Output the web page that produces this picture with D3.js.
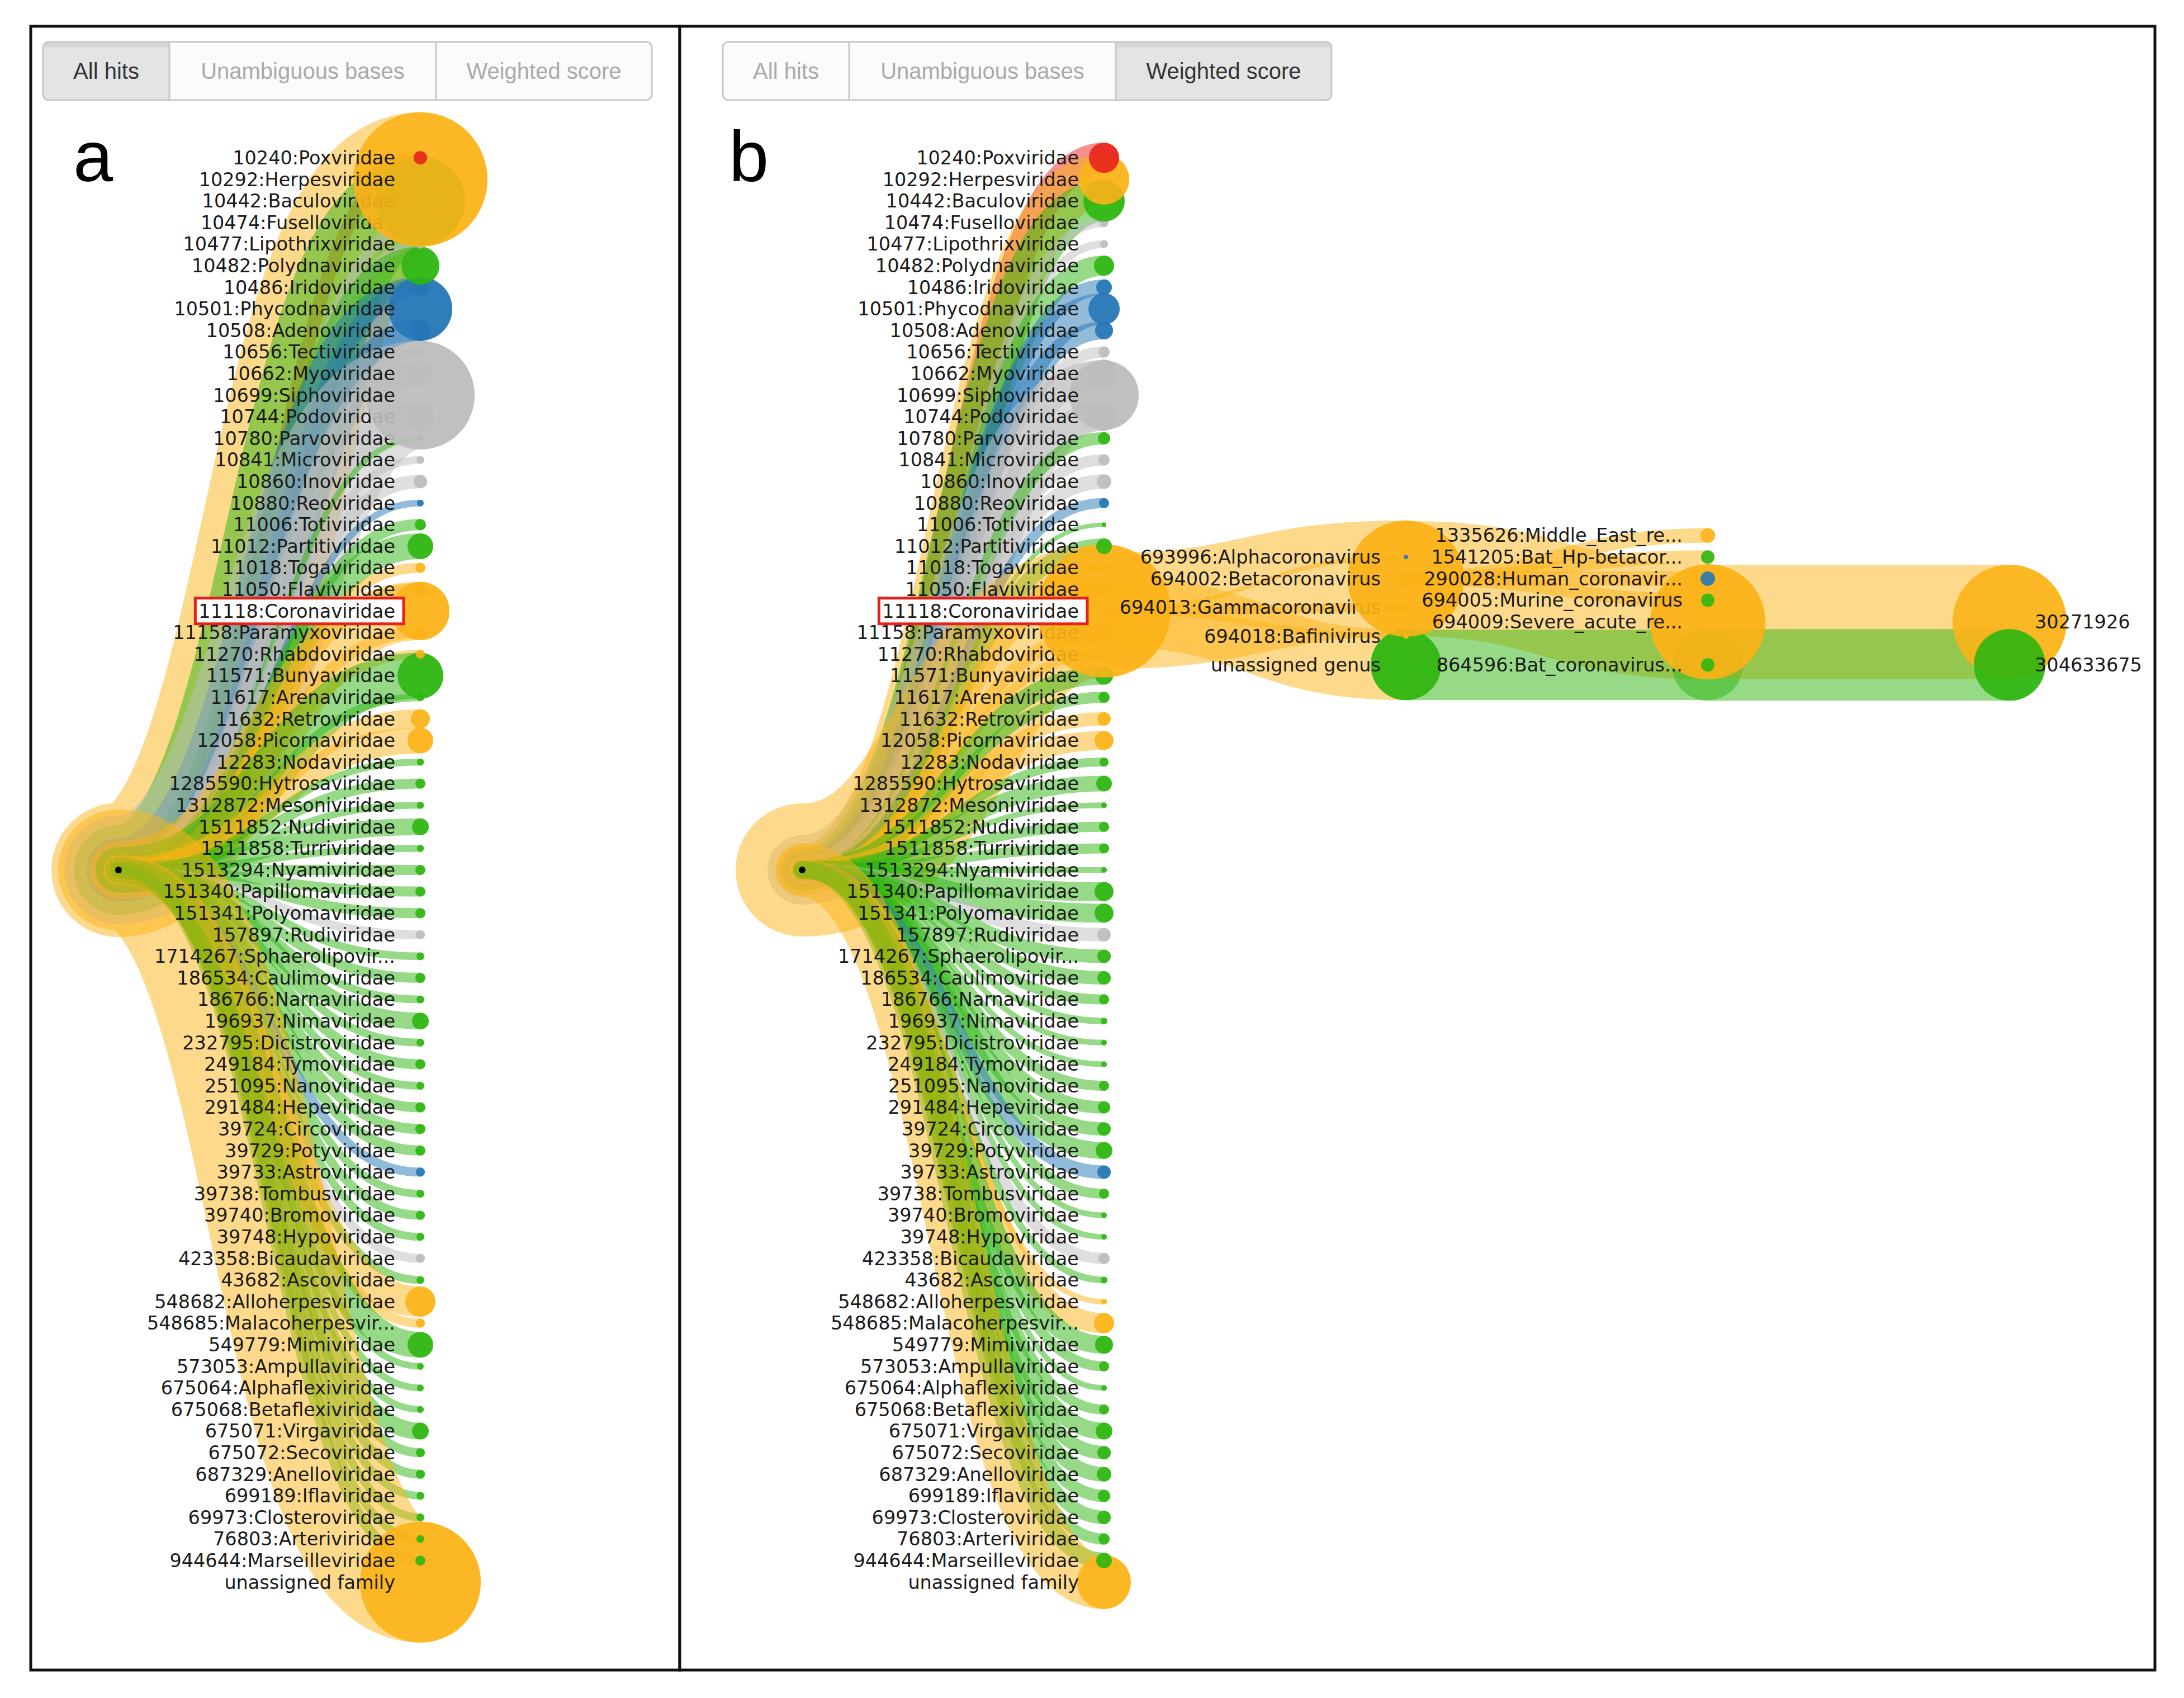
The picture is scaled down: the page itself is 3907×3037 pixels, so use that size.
<!DOCTYPE html>
<html>
<head>
<meta charset="utf-8">
<script src="https://cdn.jsdelivr.net/npm/d3@7"></script>
<style>
  body { margin: 0; background: #fff; }
  .lbl { font-family: "DejaVu Sans", Verdana, sans-serif; font-size: 33.5px; fill: #1a1a1a; }
  .btn { font-family: "Liberation Sans", Arial, sans-serif; font-size: 40px; }
</style>
</head>
<body>
<div id="root"></div>
<script>
const WIDTH = 3907;
const HEIGHT = 3037;
const ROW = 38.6;        // vertical room per leaf
const STEP = 540;        // horizontal room per depth
const LABEL_GAP = 45;
const ROOT_Y = 1556;
const EXPANDED_FAMILY = "11118:Coronaviridae";

// host groups: R red, O orange, G green, B blue, N grey
const families = [
  "10240:Poxviridae", "10292:Herpesviridae", "10442:Baculoviridae", "10474:Fuselloviridae",
  "10477:Lipothrixviridae", "10482:Polydnaviridae", "10486:Iridoviridae", "10501:Phycodnaviridae",
  "10508:Adenoviridae", "10656:Tectiviridae", "10662:Myoviridae", "10699:Siphoviridae",
  "10744:Podoviridae", "10780:Parvoviridae", "10841:Microviridae", "10860:Inoviridae",
  "10880:Reoviridae", "11006:Totiviridae", "11012:Partitiviridae", "11018:Togaviridae",
  "11050:Flaviviridae", "11118:Coronaviridae", "11158:Paramyxoviridae", "11270:Rhabdoviridae",
  "11571:Bunyaviridae", "11617:Arenaviridae", "11632:Retroviridae", "12058:Picornaviridae",
  "12283:Nodaviridae", "1285590:Hytrosaviridae", "1312872:Mesoniviridae", "1511852:Nudiviridae",
  "1511858:Turriviridae", "1513294:Nyamiviridae", "151340:Papillomaviridae", "151341:Polyomaviridae",
  "157897:Rudiviridae", "1714267:Sphaerolipoviridae", "186534:Caulimoviridae", "186766:Narnaviridae",
  "196937:Nimaviridae", "232795:Dicistroviridae", "249184:Tymoviridae", "251095:Nanoviridae",
  "291484:Hepeviridae", "39724:Circoviridae", "39729:Potyviridae", "39733:Astroviridae",
  "39738:Tombusviridae", "39740:Bromoviridae", "39748:Hypoviridae", "423358:Bicaudaviridae",
  "43682:Ascoviridae", "548682:Alloherpesviridae", "548685:Malacoherpesviridae", "549779:Mimiviridae",
  "573053:Ampullaviridae", "675064:Alphaflexiviridae", "675068:Betaflexiviridae", "675071:Virgaviridae",
  "675072:Secoviridae", "687329:Anelloviridae", "699189:Iflaviridae", "69973:Closteroviridae",
  "76803:Arteriviridae", "944644:Marseilleviridae", "unassigned family"
];
const familyHost = [
  "R","O","G","N","N","G","B","B","B","N","N","N","N","G","N","N",
  "B","G","G","O","O","O","O","O","G","G","O","O","G","G","G","G",
  "G","G","G","G","N","G","G","G","G","G","G","G","G","G","G","B",
  "G","G","G","N","G","O","O","G","G","G","G","G","G","G","G","G",
  "G","G","O"
];
// panel a: all hits (share, %)
const allHits = [
  0.80, 80.2, 35.6, 0.56, 0.36, 6.44, 1.25, 18.1, 2.01, 0.36, 2.23, 52.4, 3.48, 0.14, 0.27, 0.80,
  0.20, 0.56, 2.95, 0.45, 0.80, 15.1, 0.56, 0.36, 9.36, 0.27, 1.61, 2.95, 0.22, 0.45, 0.22, 1.25,
  0.22, 0.45, 0.45, 0.45, 0.36, 0.27, 0.45, 0.27, 1.25, 0.27, 0.45, 0.27, 0.45, 0.45, 0.45, 0.36,
  0.27, 0.36, 0.27, 0.36, 0.27, 4.06, 0.36, 2.95, 0.20, 0.20, 0.20, 1.25, 0.36, 0.36, 0.27, 0.27,
  0.27, 0.45, 65.0
];
// panel b: weighted score (share, %)
const weightedScore = [
  4.06, 11.3, 7.62, 0.36, 0.27, 1.80, 1.09, 4.37, 1.43, 0.56, 3.48, 21.4, 3.48, 0.67, 0.56, 0.94,
  0.45, 0.09, 1.09, 0.36, 0.56, 78.9, 0.80, 0.36, 1.43, 0.56, 0.80, 1.61, 0.36, 1.09, 0.14, 0.45,
  0.45, 0.14, 1.61, 1.61, 0.80, 0.80, 0.80, 0.45, 0.20, 0.14, 0.14, 0.45, 0.67, 0.80, 1.25, 0.80,
  0.45, 0.14, 0.14, 0.56, 0.20, 0.14, 1.80, 1.43, 0.45, 0.14, 0.45, 1.25, 0.80, 0.94, 0.67, 0.80,
  0.56, 1.09, 12.8
];

// Coronaviridae subtree (panel b)
const genera = ["693996:Alphacoronavirus", "694002:Betacoronavirus", "694013:Gammacoronavirus",
  "694018:Bafinivirus", "unassigned genus"];
const genusHost = ["B", "O", "O", "O", "G"];
const genusScore = [0.09, 60.2, 0.36, 0.14, 22.1];

const species = [
  "1335626:Middle_East_respiratory_syndrome-related_coronavirus",
  "1541205:Bat_Hp-betacoronavirus_Zhejiang2013",
  "290028:Human_coronavirus_HKU1",
  "694005:Murine_coronavirus",
  "694009:Severe_acute_respiratory_syndrome-related_coronavirus",
  "864596:Bat_coronavirus_BM48-31/BGR/2008"
];
const speciesGenus = [1, 1, 1, 1, 1, 4];
const speciesHost = ["O", "G", "B", "G", "O", "G"];
const speciesScore = [0.94, 0.80, 0.94, 0.80, 59.1, 22.1];
const speciesOwn = [0.94, 0.80, 0.94, 0.80, 59.1, 0.80];

const strains = ["30271926", "304633675"];
const strainSpecies = [4, 5];
const strainHost = ["O", "G"];
const strainScore = [57.9, 22.8];

const modes = ["All hits", "Unambiguous bases", "Weighted score"];
const BUTTON_WIDTHS = [226, 477, 386];

const radius = d3.scaleSqrt().domain([0, 100]).range([0, 134]);
const hostColor = d3.scaleOrdinal()
    .domain(["R", "O", "G", "B", "N"])
    .range(["#e8231d", "#fcb318", "#2db612", "#2577b5", "#bdbdbd"]);

const svg = d3.select("#root")
    .append("svg")
    .attr("width", WIDTH)
    .attr("height", HEIGHT)
    .style("display", "block");

function shortName(name) {
    return name.length > 25 ? name.slice(0, 22) + "..." : name;
}

function buildTree(values, expanded) {
    const children = families.map((name, i) => ({name, host: familyHost[i], value: values[i]}));
    if (expanded) {
        const gen = genera.map((name, i) => ({name, host: genusHost[i], value: genusScore[i], children: []}));
        const sp = species.map((name, i) => ({
            name, host: speciesHost[i], value: speciesScore[i], own: speciesOwn[i], children: []
        }));
        strains.forEach((name, i) => {
            sp[strainSpecies[i]].children.push({name, host: strainHost[i], value: strainScore[i], strain: true});
        });
        sp.forEach((s, i) => gen[speciesGenus[i]].children.push(s));
        children[families.indexOf(EXPANDED_FAMILY)].children = gen;
    }
    return d3.tree().nodeSize([ROW, STEP])(d3.hierarchy({name: "root", children}));
}

function drawButtons(g, x, y, active, id) {
    const h = 104;
    const total = d3.sum(BUTTON_WIDTHS);
    const starts = d3.cumsum([0, ...BUTTON_WIDTHS]);
    g.append("clipPath").attr("id", id)
        .append("rect").attr("x", x).attr("y", y).attr("width", total).attr("height", h).attr("rx", 10);
    const inner = g.append("g").attr("clip-path", `url(#${id})`);
    inner.selectAll("rect").data(modes).join("rect")
        .attr("x", (d, i) => x + starts[i])
        .attr("y", y)
        .attr("width", (d, i) => BUTTON_WIDTHS[i])
        .attr("height", h)
        .attr("fill", (d, i) => i === active ? "#e4e4e4" : "#fbfbfb");
    // inset shadow on the pressed button
    inner.append("rect")
        .attr("x", x + starts[active])
        .attr("y", y)
        .attr("width", BUTTON_WIDTHS[active])
        .attr("height", 10)
        .attr("fill", "#cfcfcf")
        .attr("opacity", 0.6);
    g.append("rect").attr("x", x).attr("y", y).attr("width", total).attr("height", h).attr("rx", 10)
        .attr("fill", "none").attr("stroke", "#c8c8c8").attr("stroke-width", 3);
    g.selectAll("line.sep").data(starts.slice(1, -1)).join("line")
        .attr("class", "sep")
        .attr("x1", d => x + d).attr("x2", d => x + d)
        .attr("y1", y).attr("y2", y + h)
        .attr("stroke", "#c8c8c8").attr("stroke-width", 3);
    g.selectAll("text.btn").data(modes).join("text")
        .attr("class", "btn")
        .attr("x", (d, i) => x + starts[i] + BUTTON_WIDTHS[i] / 2)
        .attr("y", y + h / 2)
        .attr("dy", "0.35em")
        .attr("text-anchor", "middle")
        .attr("fill", (d, i) => i === active ? "#333" : "#a9a9a9")
        .text(d => d);
}

function drawTree(g, root, ox, oy) {
    const px = d => ox + d.y;
    const py = d => oy + d.x;
    const link = d3.linkHorizontal().x(px).y(py);

    const order = root.descendants();
    const index = new Map(order.map((d, i) => [d, i]));
    // links: in tree order, so the first family ends up underneath
    const linked = order.filter(d => d.parent);
    // nodes: by depth; upper levels bottom-up, deep levels biggest first
    const nodes = order.slice().sort((a, b) => a.depth - b.depth ||
        (a.depth < 3 ? index.get(b) - index.get(a) : b.data.value - a.data.value));

    g.append("g")
        .selectAll("path")
        .data(linked)
        .join("path")
        .attr("d", d => link({source: d.parent, target: d}))
        .attr("fill", "none")
        .attr("stroke", d => hostColor(d.depth === 1 ? d.data.host : d.parent.data.host))
        .attr("stroke-opacity", 0.5)
        .attr("stroke-width", d => 2 * radius(d.data.value))
        .attr("stroke-linecap", "round");

    const node = g.append("g")
        .selectAll("g")
        .data(nodes)
        .join("g")
        .attr("transform", d => `translate(${px(d)},${py(d)})`);

    node.append("circle")
        .attr("r", d => d.depth ? radius(d.data.own ?? d.data.value) : 6)
        .attr("fill", d => d.depth ? hostColor(d.data.host) : "#000")
        .attr("fill-opacity", d => d.depth ? 0.9 : 1);

    node.filter(d => d.depth)
        .append("text")
        .attr("class", "lbl")
        .attr("x", d => d.data.strain ? LABEL_GAP : -LABEL_GAP)
        .attr("dy", "0.35em")
        .attr("text-anchor", d => d.data.strain ? "start" : "end")
        .text(d => shortName(d.data.name));

    // red box around the family of interest
    const focus = nodes.find(d => d.data.name === EXPANDED_FAMILY);
    const box = g.append("g").attr("transform", `translate(${px(focus)},${py(focus)})`);
    const label = box.append("text")
        .attr("class", "lbl")
        .attr("x", -LABEL_GAP)
        .attr("dy", "0.35em")
        .attr("text-anchor", "end")
        .text(shortName(focus.data.name));
    const bb = label.node().getBBox();
    box.insert("rect", "text")
        .attr("x", bb.x - 6)
        .attr("y", -23)
        .attr("width", bb.width + 21)
        .attr("height", 46)
        .attr("fill", "#fff")
        .attr("stroke", "#e8201c")
        .attr("stroke-width", 5);
}

function drawPanel(frame, values, expanded, active, letter, id) {
    const g = svg.append("g");
    g.append("rect")
        .attr("x", frame.x).attr("y", frame.y)
        .attr("width", frame.w).attr("height", frame.h)
        .attr("fill", "#fff").attr("stroke", "#111").attr("stroke-width", 5);
    drawButtons(g, frame.x + frame.btn, 75, active, id);
    g.append("text")
        .attr("x", frame.x + frame.letter)
        .attr("y", 324)
        .attr("font-family", "Liberation Sans, Arial, sans-serif")
        .attr("font-size", 128)
        .attr("fill", "#000")
        .text(letter);
    drawTree(g, buildTree(values, expanded), frame.x + frame.root, ROOT_Y);
}

drawPanel({x: 55, y: 47, w: 1161, h: 2940, btn: 22, letter: 76, root: 157}, allHits, false, 0, "a", "clipA");
drawPanel({x: 1216, y: 47, w: 2639, h: 2940, btn: 77, letter: 88, root: 219}, weightedScore, true, 2, "b", "clipB");
</script>
</body>
</html>
